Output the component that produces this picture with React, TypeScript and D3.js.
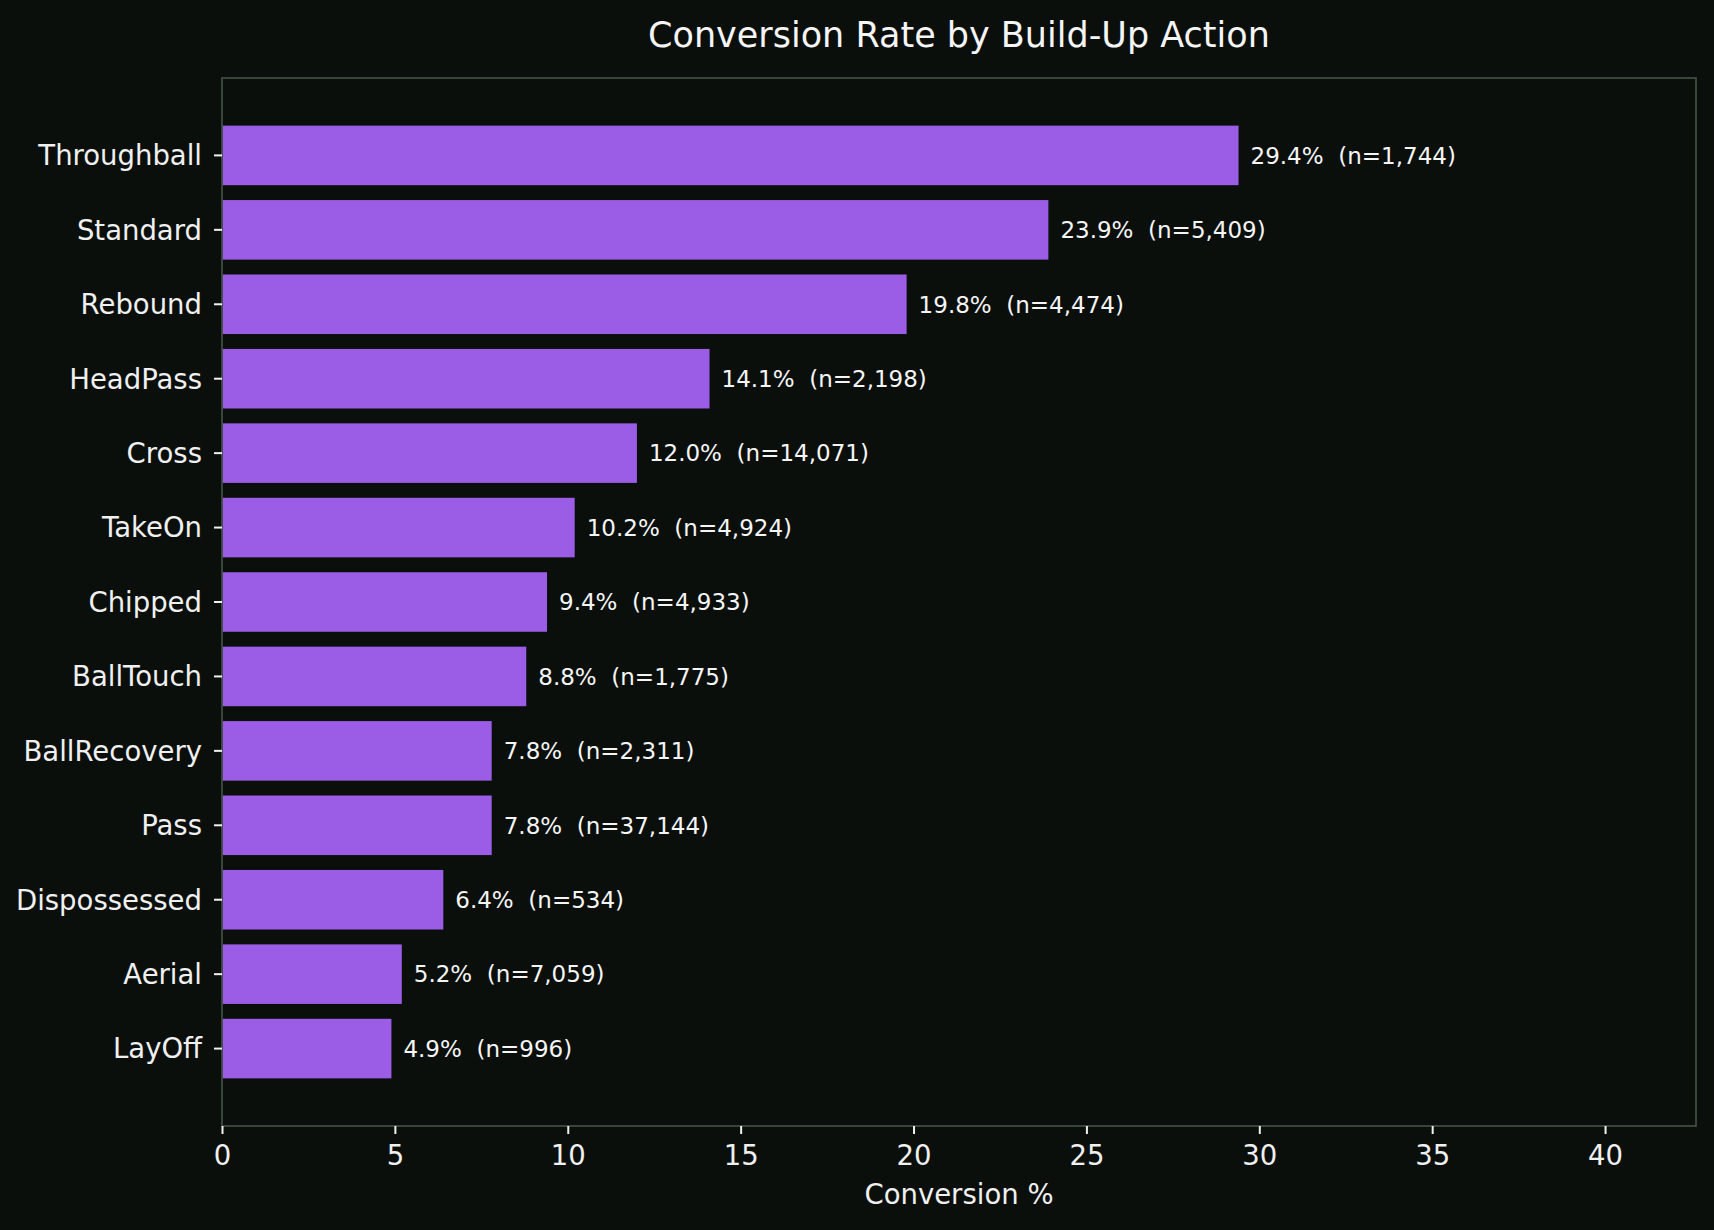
/**
 * ConversionChart
 *
 * Horizontal bar chart of conversion rate by build-up action, drawn with D3.
 */

import { useEffect, useRef } from 'react';
import * as d3 from 'd3';

const actions = [
  'Throughball', 'Standard', 'Rebound', 'HeadPass', 'Cross', 'TakeOn', 'Chipped',
  'BallTouch', 'BallRecovery', 'Pass', 'Dispossessed', 'Aerial', 'LayOff'
];
const conversion = [29.4, 23.9, 19.8, 14.1, 12.0, 10.2, 9.4, 8.8, 7.8, 7.8, 6.4, 5.2, 4.9];
const sampleSizes = [1744, 5409, 4474, 2198, 14071, 4924, 4933, 1775, 2311, 37144, 534, 7059, 996];
const xTicks = [0, 5, 10, 15, 20, 25, 30, 35, 40];

const WIDTH = 1714;
const HEIGHT = 1230;

export default function App() {
  const svgRef = useRef<SVGSVGElement>(null);

  useEffect(() => {
    if (!svgRef.current) return;
    document.body.style.margin = '0';

    const svg = d3.select(svgRef.current);
    svg.selectAll('*').remove();

    const margin = { top: 78, right: 18, bottom: 104, left: 222 };
    const innerWidth = WIDTH - margin.left - margin.right;
    const innerHeight = HEIGHT - margin.top - margin.bottom;
    const font = '"DejaVu Sans", sans-serif';

    svg.append('rect')
      .attr('width', WIDTH)
      .attr('height', HEIGHT)
      .attr('fill', '#0b0f0c');

    const g = svg.append('g')
      .attr('transform', `translate(${margin.left},${margin.top})`);

    const xScale = d3.scaleLinear()
      .domain([0, (d3.max(conversion) || 0) * 1.45])
      .range([0, innerWidth]);

    const yScale = d3.scaleBand<string>()
      .domain(actions)
      .range([0, innerHeight])
      .paddingInner(0.2)
      .paddingOuter(0.64);

    // Bars
    g.selectAll('rect.bar')
      .data(actions)
      .join('rect')
      .attr('class', 'bar')
      .attr('x', xScale(0))
      .attr('y', d => yScale(d) || 0)
      .attr('width', (_, i) => xScale(conversion[i]) - xScale(0))
      .attr('height', yScale.bandwidth())
      .attr('fill', '#9b5de5');

    // Value labels
    const fmt = d3.format(',');
    g.selectAll('text.value')
      .data(actions)
      .join('text')
      .attr('class', 'value')
      .attr('x', (_, i) => xScale(conversion[i]) + 12)
      .attr('y', d => (yScale(d) || 0) + yScale.bandwidth() / 2)
      .attr('dy', '0.36em')
      .attr('font-family', font)
      .attr('font-size', '23px')
      .attr('fill', '#f5f5f5')
      .attr('xml:space', 'preserve')
      .style('white-space', 'pre')
      .text((_, i) => `${conversion[i].toFixed(1)}%  (n=${fmt(sampleSizes[i])})`);

    // Spines
    g.append('rect')
      .attr('x', 0)
      .attr('y', 0)
      .attr('width', innerWidth)
      .attr('height', innerHeight)
      .attr('fill', 'none')
      .attr('stroke', '#3e4d40')
      .attr('stroke-width', 1.8);

    // X-axis
    const xAxis = g.append('g')
      .attr('transform', `translate(0,${innerHeight})`)
      .call(d3.axisBottom(xScale).tickValues(xTicks).tickSize(8).tickPadding(11).tickFormat(d => `${d}`));
    xAxis.select('.domain').remove();
    xAxis.selectAll('line').attr('stroke', '#f0f0f0').attr('stroke-width', 2);
    xAxis.selectAll('text')
      .attr('font-family', font)
      .attr('font-size', '27.5px')
      .attr('fill', '#f0f0f0');

    // Y-axis
    const yAxis = g.append('g')
      .call(d3.axisLeft(yScale).tickSize(8).tickPadding(12));
    yAxis.select('.domain').remove();
    yAxis.selectAll('line').attr('stroke', '#f0f0f0').attr('stroke-width', 2);
    yAxis.selectAll('text')
      .attr('dy', '0.36em')
      .attr('font-family', font)
      .attr('font-size', '27.5px')
      .attr('fill', '#f0f0f0');

    // X-axis label
    svg.append('text')
      .attr('x', margin.left + innerWidth / 2)
      .attr('y', 1204)
      .attr('text-anchor', 'middle')
      .attr('font-family', font)
      .attr('font-size', '27.5px')
      .attr('fill', '#f0f0f0')
      .text('Conversion %');

    // Title
    svg.append('text')
      .attr('x', margin.left + innerWidth / 2)
      .attr('y', 46.5)
      .attr('text-anchor', 'middle')
      .attr('font-family', font)
      .attr('font-size', '35px')
      .attr('fill', '#f5f5f5')
      .text('Conversion Rate by Build-Up Action');
  }, []);

  return (
    <div style={{ position: 'absolute', left: 0, top: 0 }}>
      <svg ref={svgRef} width={WIDTH} height={HEIGHT} style={{ display: 'block' }} />
    </div>
  );
}
